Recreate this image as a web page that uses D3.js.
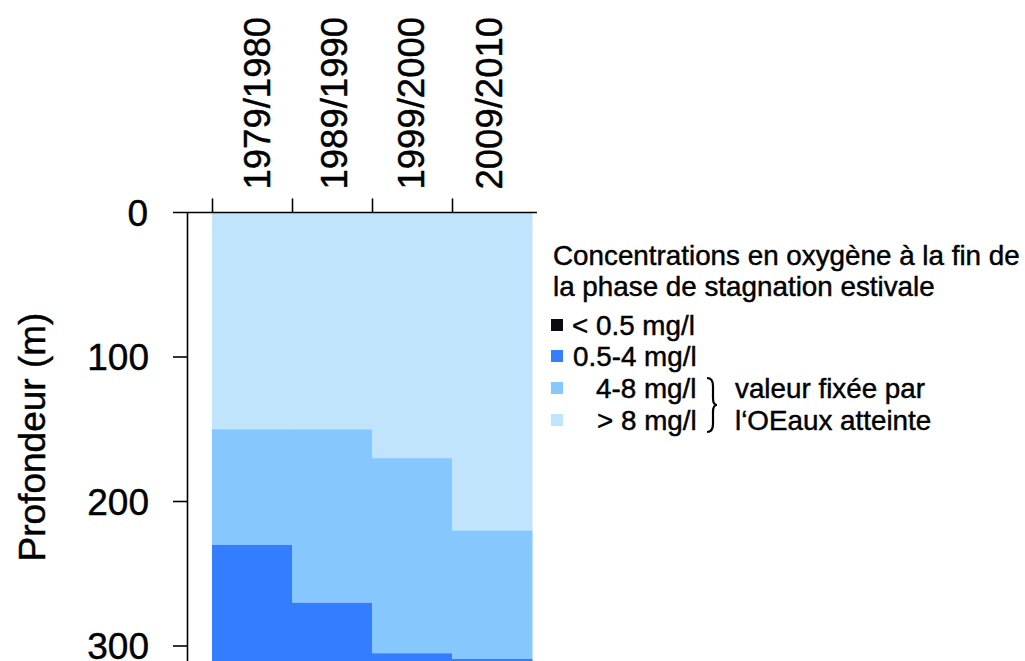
<!DOCTYPE html>
<html><head><meta charset="utf-8">
<script src="https://cdn.jsdelivr.net/npm/d3@7"></script>
<style>body{margin:0;background:#fff}svg{display:block}text{font-family:"Liberation Sans",Arial,Helvetica,sans-serif;fill:#000;stroke:#000;stroke-width:0.45px}</style>
</head><body><svg id="c" width="1025" height="661"></svg>
<script>
// ---- data ----
const periods = ["1979/1980","1989/1990","1999/2000","2009/2010"];
const limitAbove8 = [150,150,170,220];   // depth (m) down to which O2 > 8 mg/l
const limit4to8   = [230,270,305,309];   // depth (m) down to which O2 4-8 mg/l
const lakeDepth   = 311;                 // bottom of the section shown (m)
const depthTicks  = [0,100,200,300];
const classLabels = ["< 0.5 mg/l","0.5-4 mg/l","4-8 mg/l","> 8 mg/l"];
const classColors = ["#0a0a12","#327EFE","#86C7FD","#C0E4FC"];
const legendTitle = ["Concentrations en oxygène à la fin de","la phase de stagnation estivale"];
const noteLines = ["valeur fixée par","l‘OEaux atteinte"];
const yTitle = "Profondeur (m)";

(function(){
const svg = d3.select("#c");
const x = d3.scaleBand().domain(periods).range([212,532]).paddingInner(0).paddingOuter(0);
const xl = d3.scalePoint().domain(periods).range([257,489]); // label positions
const y = d3.scaleLinear().domain([0,300]).range([212.5,646]);

// segments
const segs = [];
periods.forEach((p,i)=>{
  segs.push({p, a:0, b:limitAbove8[i], c:classColors[3]});
  segs.push({p, a:limitAbove8[i], b:limit4to8[i], c:classColors[2]});
  segs.push({p, a:limit4to8[i], b:lakeDepth, c:classColors[1]});
});
svg.append("g").selectAll("rect").data(segs).join("rect")
  .attr("x",d=>x(d.p)).attr("width",x.bandwidth()+0.5)
  .attr("y",d=>y(d.a)).attr("height",d=>y(d.b)-y(d.a))
  .attr("fill",d=>d.c);

// top axis
const topAx = svg.append("g").attr("transform","translate(0,212.5)");
topAx.append("line").attr("x1",173).attr("x2",537).attr("stroke","#000").attr("stroke-width",1.6);
topAx.selectAll("line.t").data(periods).join("line").attr("class","t")
  .attr("x1",d=>Math.round(x(d))+0.5).attr("x2",d=>Math.round(x(d))+0.5)
  .attr("y1",0).attr("y2",-14).attr("stroke","#000").attr("stroke-width",1.6);
topAx.selectAll("text").data(periods).join("text")
  .attr("transform",d=>`translate(${xl(d)},-23) rotate(-90)`)
  .attr("dy","0.35em").attr("text-anchor","start")
  .style("font-size","36.5px").text(d=>d);

// left axis
const leftAx = svg.append("g");
leftAx.append("line").attr("x1",187.5).attr("x2",187.5).attr("y1",212.5).attr("y2",661)
  .attr("stroke","#000").attr("stroke-width",1.6);
leftAx.selectAll("line.t").data(depthTicks.slice(1)).join("line").attr("class","t")
  .attr("x1",173).attr("x2",187.5).attr("y1",d=>y(d)).attr("y2",d=>y(d))
  .attr("stroke","#000").attr("stroke-width",1.6);
leftAx.selectAll("text").data(depthTicks).join("text")
  .attr("x",d=>d===0?148:149).attr("y",d=>y(d)).attr("dy","0.36em")
  .attr("text-anchor","end").style("font-size","37px").text(d=>d);
svg.append("text").attr("transform",`translate(45,437) rotate(-90)`)
  .attr("text-anchor","middle").style("font-size","37px").text(yTitle);

// legend
const lg = svg.append("g");
lg.selectAll("text.t").data(legendTitle).join("text").attr("class","t")
  .attr("x",553).attr("y",(d,i)=>265+i*31).style("font-size","27.8px").text(d=>d);
const itemY = [325,356,388,420];
const itemX = [572,573,596,597];
const legItems = classLabels.map((l,i)=>({l,c:classColors[i],y:itemY[i],x:itemX[i]}));
lg.selectAll("rect").data(legItems).join("rect")
  .attr("x",551).attr("y",d=>d.y-6).attr("width",12).attr("height",12).attr("fill",d=>d.c);
lg.selectAll("text.i").data(legItems).join("text").attr("class","i")
  .attr("x",d=>d.x).attr("y",d=>d.y).attr("dy","0.36em").style("font-size","27.8px").text(d=>d.l);
// brace
lg.append("path")
  .attr("d","M707,378 Q713,378 713,386 L713,398 Q713,405 717,405 Q713,405 713,412 L713,424 Q713,432 707,432")
  .attr("fill","none").attr("stroke","#000").attr("stroke-width",2.2);
lg.selectAll("text.n").data(noteLines).join("text").attr("class","n")
  .attr("x",735).attr("y",(d,i)=>itemY[2+i]).attr("dy","0.36em").style("font-size","27.8px").text(d=>d);
})();
</script></body></html>
